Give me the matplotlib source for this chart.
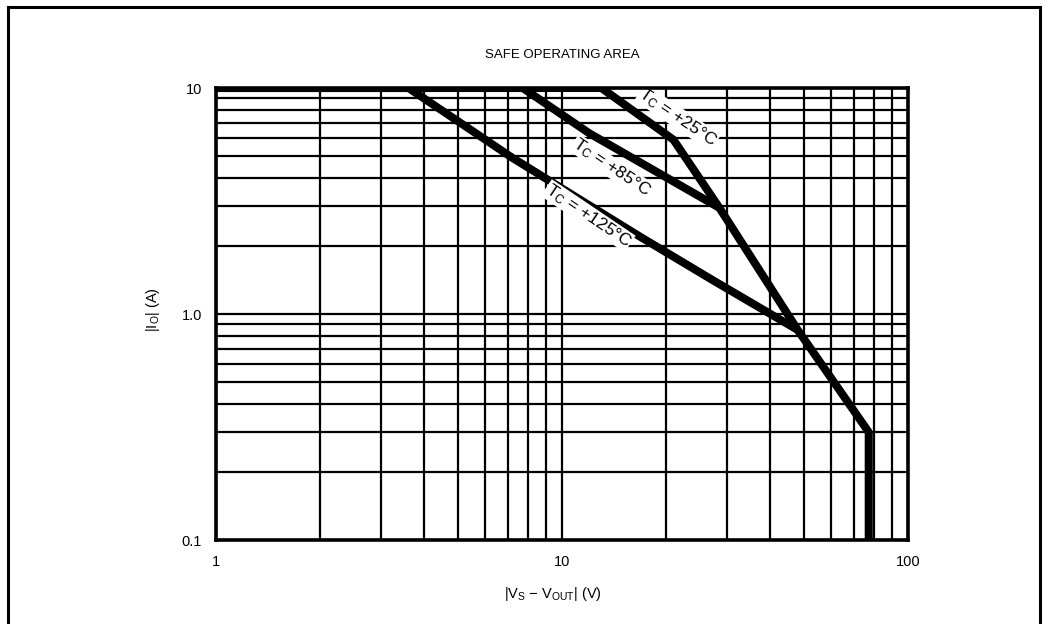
import matplotlib
matplotlib.use("Agg")
import matplotlib.pyplot as plt
from matplotlib.ticker import FixedLocator, FixedFormatter, NullFormatter
from matplotlib.lines import Line2D

plt.rcParams["font.family"] = ["Liberation Sans", "DejaVu Sans"]
plt.rcParams["mathtext.fontset"] = "custom"
plt.rcParams["mathtext.rm"] = "Liberation Sans"
plt.rcParams["mathtext.it"] = "Liberation Sans"

# ---- data ----
v_25 = [1, 13, 21, 28.5, 48, 58, 77, 77]
i_25 = [10, 10, 5.9, 2.95, 0.85, 0.56, 0.30, 0.1]

v_85 = [1, 7.7, 12, 28.5]
i_85 = [10, 10, 6.3, 2.95]

v_125 = [1, 3.6, 7.2, 16.8, 27.3, 48]
i_125 = [10, 10, 4.9, 2.2, 1.41, 0.85]

x_ticks = [1, 10, 100]
x_tick_labels = ["1", "10", "100"]
y_ticks = [0.1, 1.0, 10]
y_tick_labels = ["0.1", "1.0", "10"]
x_grid = [m * d for d in (1, 10) for m in range(1, 10)] + [100]
y_grid = [m * d for d in (0.1, 1) for m in range(1, 10)] + [10]

labels = ["T$_\\mathregular{C}$ = +25°C", "T$_\\mathregular{C}$ = +85°C", "T$_\\mathregular{C}$ = +125°C"]
label_pos = [(21.6, 7.4), (13.9, 4.45), (11.9, 2.72)]

W, H = 1048, 624
fig = plt.figure(figsize=(W / 100, H / 100), dpi=100)
fig.patch.set_facecolor("white")

ax = fig.add_axes([216 / W, 1 - 540 / H, (908 - 216) / W, (540 - 88) / H])
ax.set_xscale("log")
ax.set_yscale("log")
ax.set_xlim(1, 100)
ax.set_ylim(0.1, 10)

# grid lines
for xv in x_grid:
    ax.axvline(xv, color="black", lw=1.6, zorder=1)
for yv in y_grid:
    ax.axhline(yv, color="black", lw=1.6, zorder=1)

# curves
lw = 5.8
ax.plot(v_25, i_25, color="black", lw=lw, solid_joinstyle="round", solid_capstyle="butt", zorder=3)
ax.plot(v_85, i_85, color="black", lw=lw, solid_joinstyle="round", solid_capstyle="butt", zorder=3)
ax.plot(v_125, i_125, color="black", lw=lw, solid_joinstyle="round", solid_capstyle="butt", zorder=3)

for txt, (xv, yv) in zip(labels, label_pos):
    ax.text(xv, yv, txt, rotation=-34, ha="center", va="center", fontsize=12.5,
            rotation_mode="anchor", zorder=4,
            bbox=dict(facecolor="white", edgecolor="none", pad=0.5))

ax.xaxis.set_major_locator(FixedLocator(x_ticks))
ax.xaxis.set_major_formatter(FixedFormatter(x_tick_labels))
ax.yaxis.set_major_locator(FixedLocator(y_ticks))
ax.yaxis.set_major_formatter(FixedFormatter(y_tick_labels))
ax.xaxis.set_minor_formatter(NullFormatter())
ax.yaxis.set_minor_formatter(NullFormatter())
ax.tick_params(which="both", length=0, labelsize=10.5)
ax.tick_params(axis="x", pad=11)
ax.tick_params(axis="y", pad=10)
for s in ax.spines.values():
    s.set_linewidth(2.6)
    s.set_zorder(5)

fig.text(562 / W, 1 - 55 / H, "SAFE OPERATING AREA", ha="center", va="center", fontsize=9.5)
fig.text(553 / W, 1 - 594 / H, "|V$_\\mathregular{S}$ − V$_\\mathregular{OUT}$| (V)", ha="center", va="center", fontsize=10.5)
fig.text(153 / W, 1 - 310 / H, "|I$_\\mathregular{O}$| (A)", ha="center", va="center", rotation=90, fontsize=10.5)

# outer frame
fig.add_artist(Line2D([8 / W, 8 / W], [0, 1 - 7 / H], color="black", lw=2.2, transform=fig.transFigure))
fig.add_artist(Line2D([8 / W, 1040 / W], [1 - 7 / H, 1 - 7 / H], color="black", lw=2.2, transform=fig.transFigure))
fig.add_artist(Line2D([1040 / W, 1040 / W], [0, 1 - 7 / H], color="black", lw=2.2, transform=fig.transFigure))

fig.savefig("out.png", dpi=100)
